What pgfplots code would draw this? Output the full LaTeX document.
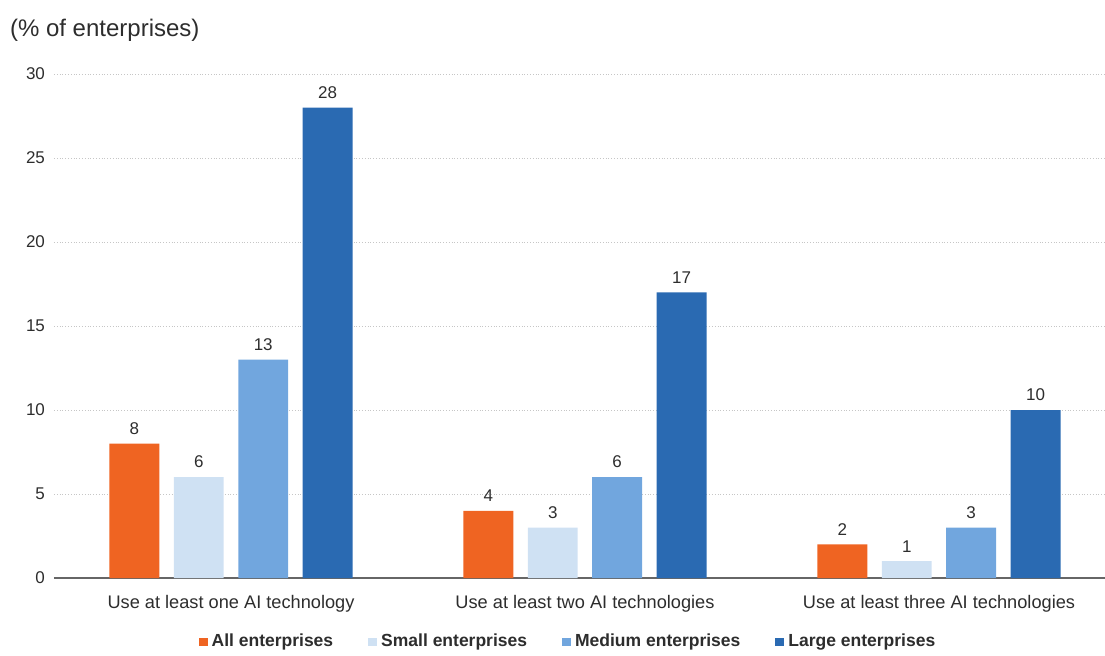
\documentclass[border=0pt]{standalone}
\usepackage{fontspec}
\setmainfont{Liberation Sans}
\usepackage{pgfplots}
\pgfplotsset{compat=1.18}
\definecolor{cAll}{RGB}{239,100,34}
\definecolor{cSmall}{RGB}{207,225,243}
\definecolor{cMed}{RGB}{113,166,222}
\definecolor{cLarge}{RGB}{42,106,178}
\definecolor{txt}{RGB}{45,45,45}
\begin{document}
\begin{tikzpicture}
\begin{axis}[
  scale only axis,
  width=525.5pt, height=252pt,
  xmin=-0.5, xmax=2.469,
  ymin=0, ymax=30,
  ytick={0,5,...,30},
  ymajorgrids,
  grid style={densely dotted, gray!45, line width=0.5pt},
  axis x line*=bottom,
  axis y line*=left,
  y axis line style={draw=none},
  x axis line style={gray!80!black, line width=0.6pt},
  ytick style={draw=none},
  xtick={0,1,2},
  xticklabels={Use at least one AI technology, Use at least two AI technologies, Use at least three AI technologies},
  xtick style={draw=none},
  extra x ticks={-0.5,0.5,1.5},
  extra x tick labels={},
  extra x tick style={tick style={draw=gray!80!black, line width=0.6pt}, major tick length=3pt, tick align=outside, grid=none},
  /pgf/number format/assume math mode=true,
  ticklabel style={font=\fontsize{8.5}{10}\selectfont, text=txt},
  xticklabel style={font=\fontsize{9.1}{10}\selectfont, yshift=-1pt},
  yticklabel style={xshift=-1pt},
  ybar,
  bar width=0.141,
  nodes near coords,
  every node near coord/.append style={font=\fontsize{8.5}{10}\selectfont, text=txt, yshift=1pt},
  legend columns=4,
  legend style={draw=none, at={(0.49,0)}, anchor=center, yshift=-32pt,
    font=\bfseries\fontsize{8.75}{10}\selectfont, text=txt,
    /tikz/every even column/.append style={column sep=15.5pt}},
  legend image code/.code={\fill[#1] (0pt,-2.2pt) rectangle (4.5pt,2.2pt);},
  clip=false,
]
\addplot[fill=cAll, draw=none, bar shift=-0.273] coordinates {(0,8) (1,4) (2,2)};
\addplot[fill=cSmall, draw=none, bar shift=-0.091] coordinates {(0,6) (1,3) (2,1)};
\addplot[fill=cMed, draw=none, bar shift=0.091] coordinates {(0,13) (1,6) (2,3)};
\addplot[fill=cLarge, draw=none, bar shift=0.273] coordinates {(0,28) (1,17) (2,10)};
\legend{All enterprises, Small enterprises, Medium enterprises, Large enterprises}
\node[anchor=west, font=\fontsize{12}{14}\selectfont, text=txt] at ([xshift=-25.5pt,yshift=22pt]rel axis cs:0,1) {(\% of enterprises)};
\end{axis}
\pgfresetboundingbox
\path[use as bounding box] ([xshift=-27pt,yshift=-38.5pt]current axis.south west) rectangle ([yshift=37pt]current axis.north east);
\end{tikzpicture}
\end{document}
